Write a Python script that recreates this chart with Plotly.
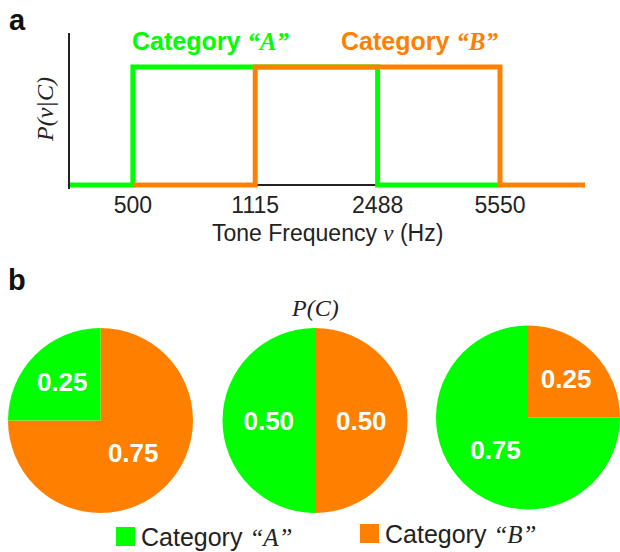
import math
import plotly.graph_objects as go

# ---------------- data ----------------
category_names = ["A", "B"]
category_colors = ["#00FF00", "#FF8000"]
category_low_hz = [500, 1115]          # lower edge of each category's uniform band
category_high_hz = [2488, 5550]        # upper edge of each category's uniform band
curve_start_hz = [331, 500]            # where each drawn curve starts
curve_end_hz = [5550, 9690]            # where each drawn curve ends
tick_values_hz = [500, 1115, 2488, 5550]
tick_labels = ["500", "1115", "2488", "5550"]
density_level = [1, 1]                 # relative height of P(v|C)

prior_A = [0.25, 0.50, 0.75]
prior_B = [0.75, 0.50, 0.25]

W, H = 620, 552
SANS = "Liberation Sans, Arial, sans-serif"
SERIF = "Liberation Serif, Times New Roman, serif"
DARK = "#222222"


def px(x):
    return x / W


def py(y):
    return 1 - y / H


fig = go.Figure()

# ---------------- panel a: step densities ----------------
for i, name in enumerate(category_names):
    xs = [curve_start_hz[i], category_low_hz[i], category_high_hz[i], curve_end_hz[i]]
    ys = [0, density_level[i], 0, 0]
    fig.add_trace(go.Scatter(
        x=xs, y=ys, mode="lines", line=dict(color=category_colors[i], width=5, shape="hv"),
        xaxis="x", yaxis="y", showlegend=False, hoverinfo="skip"))

# axis geometry (pixels)
x_left, x_right = 70, 585
y_zero, y_one, y_top, y_bottom = 185, 67, 33, 189
unit = y_zero - y_one

fig.update_layout(
    xaxis=dict(
        type="log",
        domain=[px(x_left), px(x_right)],
        range=[math.log10(curve_start_hz[0]), math.log10(curve_end_hz[1])],
        tickvals=tick_values_hz, ticktext=tick_labels,
        tickfont=dict(family=SANS, size=23, color=DARK),
        ticks="", anchor="free", position=py(189),
        showgrid=False, zeroline=False, showline=False,
    ),
    yaxis=dict(
        domain=[py(y_bottom), py(y_top)],
        range=[-(y_bottom - y_zero) / unit, (y_zero - y_top) / unit],
        showticklabels=False, showgrid=False, ticks="",
        showline=True, linecolor=DARK, linewidth=2,
        zeroline=True, zerolinecolor=DARK, zerolinewidth=2, anchor="x",
    ),
)

annotations = []
# category labels above the steps
annotations.append(dict(
    xref="x", yref="paper", x=math.log10(category_low_hz[0]), y=py(41), xshift=-3,
    xanchor="left", yanchor="middle", showarrow=False,
    text="<b>Category <span style='font-family:Liberation Serif'><i>\u201cA\u201d</i></span></b>",
    font=dict(family=SANS, size=25, color=category_colors[0])))
annotations.append(dict(
    xref="x", yref="paper", x=math.log10(category_high_hz[1]), y=py(41),
    xanchor="right", yanchor="middle", showarrow=False,
    text="<b>Category <span style='font-family:Liberation Serif'><i>\u201cB\u201d</i></span></b>",
    font=dict(family=SANS, size=25, color=category_colors[1])))
# axis titles
annotations.append(dict(
    xref="paper", yref="paper", x=px(327), y=py(233), xanchor="center", yanchor="middle",
    showarrow=False,
    text="Tone Frequency <span style='font-family:Liberation Serif'><i>\u03bd</i></span> (Hz)",
    font=dict(family=SANS, size=23, color=DARK)))
annotations.append(dict(
    xref="paper", yref="paper", x=px(45), y=py(110), xanchor="center", yanchor="middle",
    showarrow=False, textangle=-90,
    text="<i>P(\u03bd|C)</i>", font=dict(family=SERIF, size=24, color=DARK)))
# panel letters
annotations.append(dict(xref="paper", yref="paper", x=px(7), y=py(20), xanchor="left",
                        yanchor="middle", showarrow=False, text="<b>a</b>",
                        font=dict(family=SANS, size=29, color="#111")))
annotations.append(dict(xref="paper", yref="paper", x=px(6), y=py(280), xanchor="left",
                        yanchor="middle", showarrow=False, text="<b>b</b>",
                        font=dict(family=SANS, size=29, color="#111")))

# ---------------- panel b: priors ----------------
pie_centers = [(100.5, 420.5), (315, 420.5), (528.5, 417.5)]
R = 92.5
for k in range(len(prior_A)):
    cx, cy = pie_centers[k]
    x0, x1 = max(0, cx - R), min(W, cx + R)
    fig.add_trace(go.Pie(
        labels=["Category \u201cB\u201d", "Category \u201cA\u201d"],
        values=[prior_B[k], prior_A[k]],
        marker=dict(colors=[category_colors[1], category_colors[0]], line=dict(width=0)),
        sort=False, direction="clockwise", rotation=0,
        textinfo="none", texttemplate="%{value:.2f}", textposition="inside",
        insidetextorientation="horizontal",
        insidetextfont=dict(family=SANS, size=26, color="white", weight="bold"),
        domain=dict(x=[px(x0), px(x1)], y=[py(cy + R), py(cy - R)]),
        showlegend=False, hoverinfo="skip"))

annotations.append(dict(
    xref="paper", yref="paper", x=px(315), y=py(308), xanchor="center", yanchor="middle",
    showarrow=False, text="<i>P(C)</i>", font=dict(family=SERIF, size=24, color=DARK)))

# custom legend
legend_items = [(116, 527, category_colors[0], category_names[0]),
                (360, 524, category_colors[1], category_names[1])]
shapes = []
for lx, ly, col, nm in legend_items:
    shapes.append(dict(type="rect", xref="paper", yref="paper",
                       x0=px(lx), x1=px(lx + 19), y0=py(ly + 19), y1=py(ly),
                       fillcolor=col, line=dict(width=0)))
    annotations.append(dict(
        xref="paper", yref="paper", x=px(lx + 23), y=py(ly + 10), xanchor="left",
        yanchor="middle", showarrow=False,
        text="Category <span style='font-family:Liberation Serif'><i>\u201c" + nm + "\u201d</i></span>",
        font=dict(family=SANS, size=25, color=DARK)))

fig.update_layout(
    width=W, height=H, autosize=False,
    margin=dict(l=0, r=0, t=0, b=0),
    paper_bgcolor="white", plot_bgcolor="white",
    annotations=annotations, shapes=shapes,
    showlegend=False,
)

fig.write_html("out.html", config={"displayModeBar": False},
               post_script="document.body.style.margin='0';")
